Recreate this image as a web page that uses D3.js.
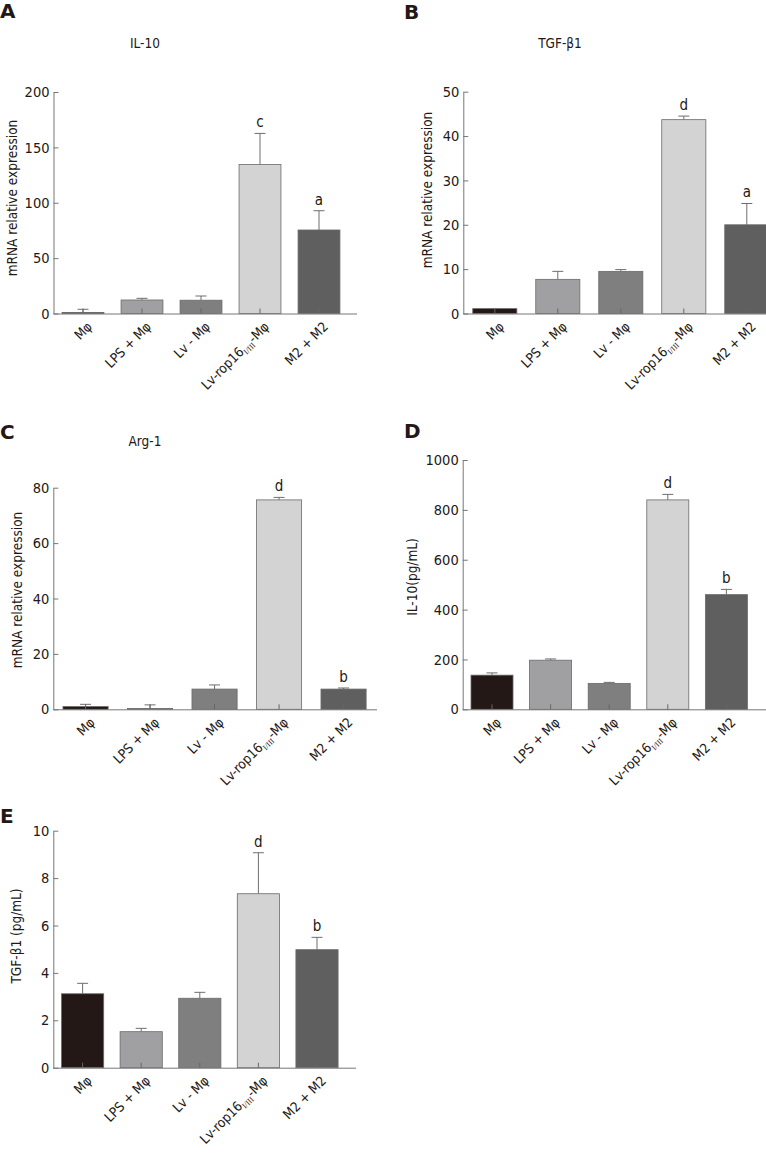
<!DOCTYPE html>
<html>
<head>
<meta charset="utf-8">
<script src="https://cdn.jsdelivr.net/npm/d3@7"></script>
<style>
  html, body { margin: 0; padding: 0; background: #fff; }
  svg { display: block; }
  text { font-family: "DejaVu Sans Condensed", "DejaVu Sans", sans-serif; fill: #231815; }
</style>
</head>
<body>
<script>
// ---------------- data ----------------
const categories = ["Mφ", "LPS + Mφ", "Lv - Mφ", "Lv-rop16I/III-Mφ", "M2 + M2"];
const barColors = ["#231815", "#a0a0a3", "#7f7f7f", "#d3d3d3", "#5f5f5f"];

const il10mRNA      = [1.0, 12.2, 12.0, 134.6, 75.4];
const il10mRNAErr   = [2.8, 1.5, 3.8, 28.0, 17.4];
const il10mRNASig   = ["", "", "", "c", "a"];
const il10mRNATicks = [0, 50, 100, 150, 200];

const tgfmRNA      = [1.1, 7.7, 9.5, 43.7, 20.0];
const tgfmRNAErr   = [0, 1.8, 0.4, 0.8, 4.8];
const tgfmRNASig   = ["", "", "", "d", "a"];
const tgfmRNATicks = [0, 10, 20, 30, 40, 50];

const arg1mRNA      = [1.0, 0.3, 7.3, 75.6, 7.3];
const arg1mRNAErr   = [0.8, 1.3, 1.5, 0.9, 0.4];
const arg1mRNASig   = ["", "", "", "d", "b"];
const arg1mRNATicks = [0, 20, 40, 60, 80];

const il10Prot      = [137, 197, 104, 840, 460];
const il10ProtErr   = [9, 5, 4, 22, 21];
const il10ProtSig   = ["", "", "", "d", "b"];
const il10ProtTicks = [0, 200, 400, 600, 800, 1000];

const tgfProt      = [3.12, 1.52, 2.93, 7.34, 4.98];
const tgfProtErr   = [0.44, 0.14, 0.25, 1.73, 0.52];
const tgfProtSig   = ["", "", "", "d", "b"];
const tgfProtTicks = [0, 2, 4, 6, 8, 10];

// ---------------- layout ----------------
const panels = [
  { letter: "A", lx: 0, ly: 18, title: "IL-10", tx: 145, ty: 48, ylab: "mRNA relative expression", ylx: 13, yly: 198,
    values: il10mRNA, errs: il10mRNAErr, sig: il10mRNASig, ticks: il10mRNATicks,
    x0: 53.5, step: 59, pad: 0.29, xEnd: 357, yBase: 313.5, yTopPx: 92 },
  { letter: "B", lx: 404, ly: 19, title: "TGF-β1", tx: 560, ty: 48, ylab: "mRNA relative expression", ylx: 428, yly: 190,
    values: tgfmRNA, errs: tgfmRNAErr, sig: tgfmRNASig, ticks: tgfmRNATicks,
    x0: 463.3, step: 63, pad: 0.30, xEnd: 770, yBase: 313.5, yTopPx: 91.7 },
  { letter: "C", lx: 0, ly: 439, title: "Arg-1", tx: 145, ty: 446, ylab: "mRNA relative expression", ylx: 18, yly: 590,
    values: arg1mRNA, errs: arg1mRNAErr, sig: arg1mRNASig, ticks: arg1mRNATicks,
    x0: 53.3, step: 64.5, pad: 0.30, xEnd: 377, yBase: 709.3, yTopPx: 487.7 },
  { letter: "D", lx: 404, ly: 438, title: "", tx: 0, ty: 0, ylab: "IL-10(pg/mL)", ylx: 413, yly: 577,
    values: il10Prot, errs: il10ProtErr, sig: il10ProtSig, ticks: il10ProtTicks,
    x0: 462.7, step: 58.6, pad: 0.283, xEnd: 770, yBase: 709.3, yTopPx: 460 },
  { letter: "E", lx: 0, ly: 823, title: "", tx: 0, ty: 0, ylab: "TGF-β1 (pg/mL)", ylx: 17, yly: 936,
    values: tgfProt, errs: tgfProtErr, sig: tgfProtSig, ticks: tgfProtTicks,
    x0: 53.3, step: 58.6, pad: 0.28, xEnd: 356, yBase: 1067.7, yTopPx: 830.7 }
];

const svg = d3.select("body").append("svg").attr("width", 766).attr("height", 1157);

function drawPanel(p) {
  const g = svg.append("g");
  const x = d3.scaleBand().domain(categories)
    .range([p.x0, p.x0 + categories.length * p.step])
    .paddingInner(p.pad).paddingOuter(p.pad / 2);
  const yMax = p.ticks[p.ticks.length - 1];
  const y = d3.scaleLinear().domain([0, yMax]).range([p.yBase, p.yTopPx]);
  const bw = x.bandwidth();

  const rows = categories.map((c, i) => ({ c, i, v: p.values[i], e: p.errs[i], s: p.sig[i] }));

  // error bars (behind bars)
  const eb = g.append("g").attr("stroke", "#6e6e6e").attr("stroke-width", 1).attr("fill", "none");
  rows.filter(d => d.e > 0).forEach(d => {
    const cx = x(d.c) + bw / 2;
    eb.append("line").attr("x1", cx).attr("x2", cx).attr("y1", y(d.v)).attr("y2", y(d.v + d.e));
    eb.append("line").attr("x1", cx - 5.5).attr("x2", cx + 5.5).attr("y1", y(d.v + d.e)).attr("y2", y(d.v + d.e));
  });

  // bars
  g.append("g").selectAll("rect").data(rows).join("rect")
    .attr("x", d => x(d.c))
    .attr("y", d => y(d.v))
    .attr("width", bw)
    .attr("height", d => y(0) - y(d.v))
    .attr("fill", d => barColors[d.i])
    .attr("stroke", "#6a6a6a")
    .attr("stroke-width", 0.8);

  // significance letters
  g.append("g").selectAll("text").data(rows.filter(d => d.s)).join("text")
    .attr("x", d => x(d.c) + bw / 2)
    .attr("y", d => y(d.v + d.e) - 6)
    .attr("text-anchor", "middle")
    .attr("font-size", 15)
    .text(d => d.s);

  // y axis
  const ya = g.append("g").attr("transform", `translate(${p.x0},0)`)
    .call(d3.axisLeft(y).tickValues(p.ticks).tickSizeInner(-5).tickSizeOuter(0).tickPadding(4).tickFormat(d3.format("d")));
  ya.selectAll("path, line").attr("stroke", "#777");
  ya.selectAll("text").attr("font-size", 14.5).attr("fill", "#231815").style("font-family", null);

  // x axis
  const xa = g.append("g").attr("transform", `translate(0,${p.yBase})`)
    .call(d3.axisBottom(x).tickSizeInner(-5).tickSizeOuter(0).tickFormat(""));
  xa.select(".domain").remove();
  xa.selectAll("line").attr("stroke", "#666");
  xa.append("line").attr("x1", p.x0).attr("x2", p.xEnd).attr("y1", 0.5).attr("y2", 0.5)
    .attr("stroke", "#777").attr("stroke-width", 1);

  // x labels (rotated)
  const lab = g.append("g").selectAll("text").data(rows).join("text")
    .attr("transform", d => `translate(${x(d.c) + bw / 2 + 10},${p.yBase + 14}) rotate(-45)`)
    .attr("text-anchor", "end")
    .attr("font-size", 13.5);
  lab.each(function (d) {
    const t = d3.select(this);
    if (d.c.startsWith("Lv-rop16")) {
      t.append("tspan").text("Lv-rop16");
      t.append("tspan").attr("font-size", 8).attr("dy", 3).attr("font-family", "Liberation Serif, serif").text("I/III");
      t.append("tspan").attr("dy", -3).text("-Mφ");
    } else {
      t.text(d.c);
    }
  });

  // y-axis label
  g.append("text")
    .attr("transform", `translate(${p.ylx},${p.yly}) rotate(-90)`)
    .attr("text-anchor", "middle")
    .attr("dominant-baseline", "middle")
    .attr("font-size", 13.5)
    .text(p.ylab);

  // title
  if (p.title) {
    g.append("text").attr("x", p.tx).attr("y", p.ty).attr("text-anchor", "middle")
      .attr("font-size", 13.5).text(p.title);
  }

  // panel letter
  g.append("text").attr("x", p.lx).attr("y", p.ly)
    .attr("font-size", 20).attr("font-weight", "bold")
    .style("font-family", "'DejaVu Sans', sans-serif")
    .text(p.letter);
}

panels.forEach(drawPanel);
</script>
</body>
</html>
